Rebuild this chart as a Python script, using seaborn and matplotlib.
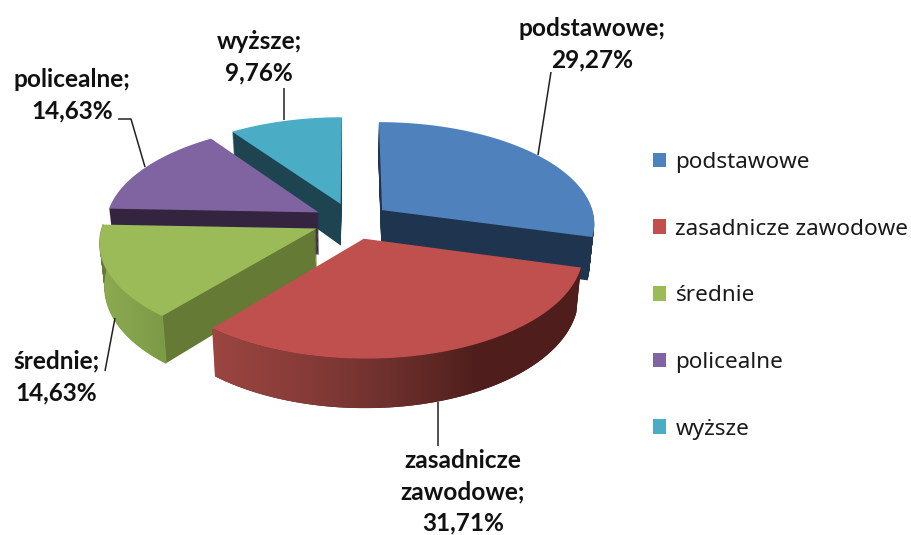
import numpy as np
import matplotlib
matplotlib.use("Agg")
import matplotlib.pyplot as plt
import seaborn as sns
from matplotlib.colors import LinearSegmentedColormap
from matplotlib.patches import Patch, PathPatch
from matplotlib.path import Path
from matplotlib.transforms import Affine2D, Transform

# ---- data ----
categories = ["podstawowe", "zasadnicze zawodowe", "średnie", "policealne", "wyższe"]
label_names = ["podstawowe", "zasadnicze\nzawodowe", "średnie", "policealne", "wyższe"]
values = [29.27, 31.71, 14.63, 14.63, 9.76]

# ---- style ----
top_colors = sns.color_palette(["#4f81bd", "#c0504d", "#9bbb59", "#8064a2", "#4bacc6"])
wall_colors = sns.color_palette(["#1f344e", "#4f1e1c", "#657a35", "#34243f", "#1d4450"])
draw_rank = [2, 4, 3, 1, 0]
explode_amt = 0.18
label_pos = [(592, 44), (463, 492), (56, 377), (72, 95), (259, 57)]
leaders = [
    [(551, 72), (538, 155)],
    [(438, 402), (438, 446)],
    [(115, 318), (105, 371)],
    [(118, 119), (131, 119), (145, 167)],
    [(284, 88), (284, 120)],
]
CX, CY, RX, RY, K, DEPTH, SHRINK = 352, 221, 213, 101, 0.12, 42.5, 0.02


class Tilt(Transform):
    """Perspective view of the unit pie lying on a plane, lowered by z."""
    input_dims = output_dims = 2

    def __init__(self, z=0.0):
        super().__init__()
        self.z = z

    def transform_non_affine(self, v):
        v = np.asarray(v, dtype=float)
        w = 1 + K * v[:, 1]
        return np.column_stack([CX + RX * (1 - SHRINK * self.z) * v[:, 0] / w,
                                CY - RY * v[:, 1] / w + self.z * DEPTH / w])

    def transform_path_non_affine(self, path):
        # flatten the curves first so that the arcs stay exact under the tilt
        polys = path.transformed(Affine2D().scale(2000)).to_polygons(closed_only=True)
        return Path(self.transform_non_affine(polys[0] / 2000), closed=True)


sns.set_theme(style="white")
fig = plt.figure(figsize=(9.11, 5.35), dpi=100, facecolor="white")
ax = fig.add_axes([0, 0, 1, 1])

explode = [explode_amt] * len(values)
layers = np.linspace(1, 0, 48)
for z in layers:
    cols = top_colors if z == 0 else wall_colors
    wedges = ax.pie(values, explode=explode, colors=cols, startangle=90,
                    counterclock=False, radius=1)[0]
    for wedge, rank in zip(wedges, draw_rank):
        wedge.set_transform(Tilt(z) + ax.transData)
        wedge.set_zorder(rank + 0.5 * (1 - z))
        wedge.set_linewidth(0)

# shaded outer walls
edges = np.cumsum([0] + values) / sum(values) * 2 * np.pi
shades = {
    1: (["#9c4541", "#853b38", "#6b2f2c", "#4f1e1c", "#4f1e1c"], [0, .27, .5, .72, 1], None),
    2: (["#8dab52", "#7b9a46"], [0, 1], "#88a64e"),
}
for i, (stops, pos, under) in shades.items():
    th = np.linspace(edges[i], edges[i + 1], 120)
    mid = (edges[i] + edges[i + 1]) / 2
    ux = np.sin(th) + explode_amt * np.sin(mid)
    uy = np.cos(th) + explode_amt * np.cos(mid)
    pts = np.column_stack([ux, uy])
    poly = np.vstack([Tilt(0).transform_non_affine(pts), Tilt(1).transform_non_affine(pts)[::-1]])
    outline = Path(np.vstack([poly, poly[0]]))
    if under:
        ax.add_patch(PathPatch(outline, transform=ax.transData, fc=under, ec=under,
                               lw=0.8, zorder=draw_rank[i] + 0.492))
    clip = PathPatch(outline, transform=ax.transData, fc="none", ec="none", zorder=0)
    ax.add_patch(clip)
    cmap = LinearSegmentedColormap.from_list("w", list(zip(pos, stops)))
    x0, x1 = poly[:, 0].min(), poly[:, 0].max()
    y0, y1 = poly[:, 1].min(), poly[:, 1].max()
    im = ax.imshow(np.linspace(0, 1, 256)[None, :], cmap=cmap, aspect="auto",
                   extent=(x0, x1, y1, y0), zorder=draw_rank[i] + 0.495)
    im.set_clip_path(clip)

# data labels
for name, val, (lx, ly), pts in zip(label_names, values, label_pos, leaders):
    ax.text(lx, ly, f"{name};\n{val:.2f}%".replace(".", ","), ha="center", va="center",
            family="Lato", fontweight="bold", fontsize=17.6, linespacing=1.44,
            color="#111111", zorder=20)
    xs, ys = zip(*pts)
    ax.plot(xs, ys, color="#222222", lw=1.1, zorder=10, solid_capstyle="butt")

# legend
handles = [Patch(facecolor=c, edgecolor="none", label=n) for c, n in zip(top_colors, categories)]
fs = 16.2
leg = ax.legend(handles=handles, loc="upper left", bbox_to_anchor=(652.5, 152),
                bbox_transform=ax.transData, frameon=False,
                prop={"family": "Noto Sans", "size": fs},
                handlelength=0.62, handleheight=0.62, handletextpad=0.4,
                labelspacing=2.03, borderpad=0, borderaxespad=0,
                labelcolor="#1a1a1a")

ax.set_aspect("auto")
ax.set_xlim(0, 911)
ax.set_ylim(535, 0)
ax.axis("off")
fig.savefig("out.png", dpi=100, facecolor="white")
